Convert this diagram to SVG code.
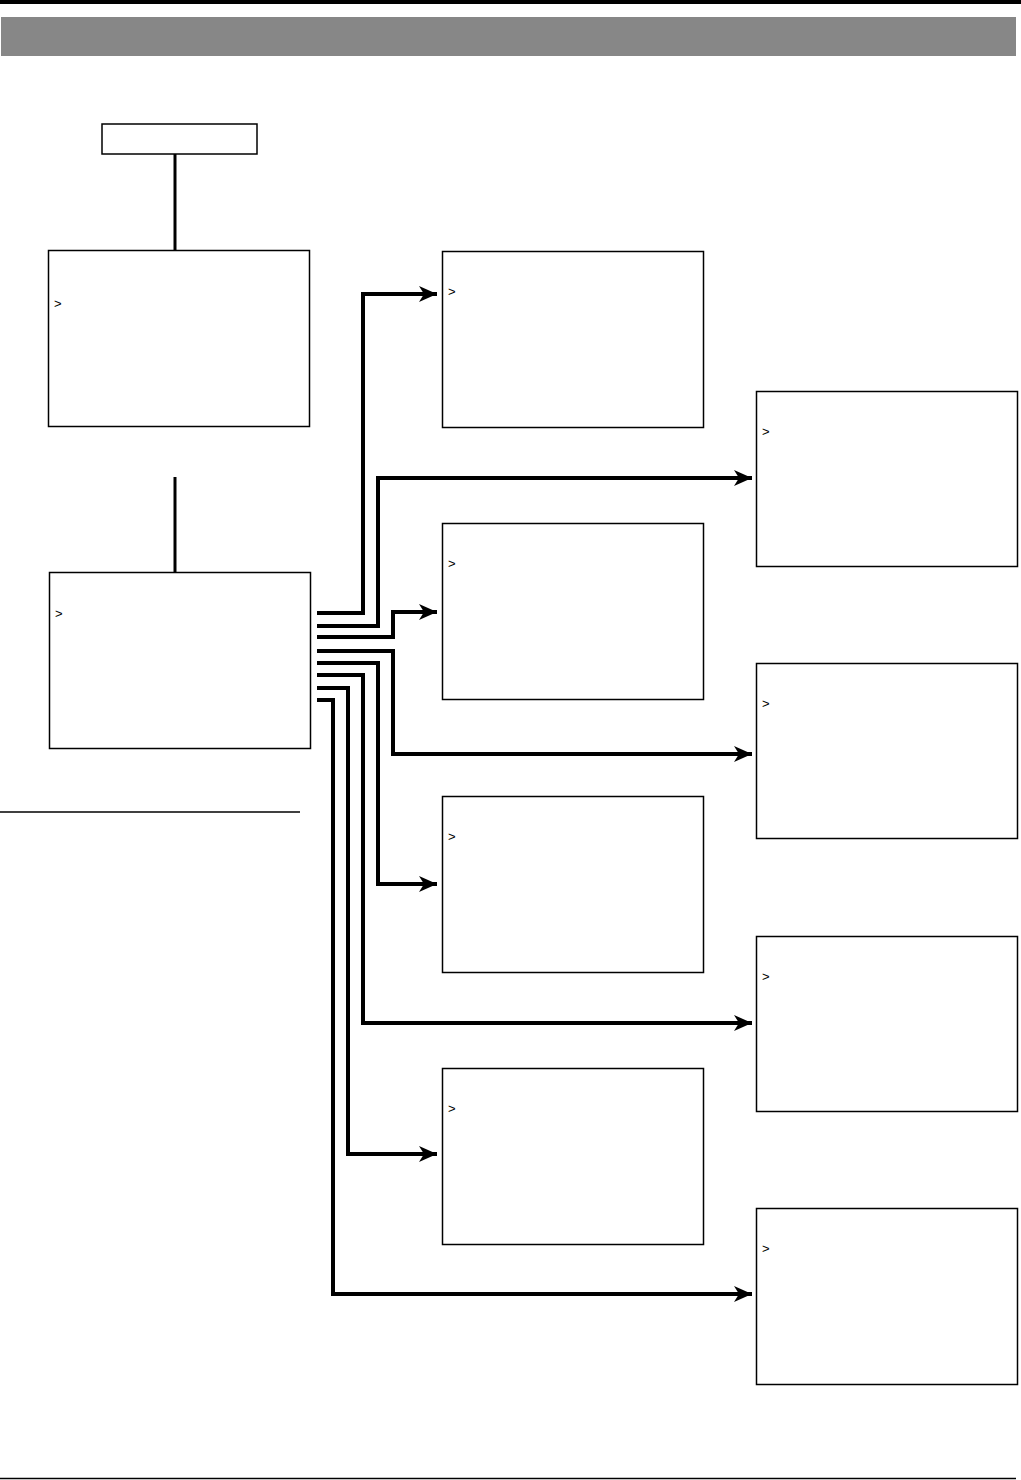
<svg xmlns="http://www.w3.org/2000/svg" width="1021" height="1480" viewBox="0 0 1021 1480">
<style>
.box{fill:#fff;stroke:#000;stroke-width:1.5}
.c{fill:none;stroke:#000;stroke-width:4;stroke-linejoin:miter}
.t{font-family:"Liberation Sans",Arial,sans-serif;font-size:13px;fill:#000}
</style>
<defs>
<marker id="ah" markerUnits="userSpaceOnUse" markerWidth="20" markerHeight="18" refX="18" refY="9" orient="auto" viewBox="0 0 20 18">
<path d="M0,1 L18,9 L0,17 L5,9 Z" fill="#000"/>
</marker>
</defs>
<rect x="0" y="0" width="1021" height="4" fill="#000"/>
<rect x="1" y="17" width="1015" height="39" fill="#878787"/>
<line x1="0" y1="1478.5" x2="1016" y2="1478.5" stroke="#000" stroke-width="1.5"/>
<line x1="0" y1="812" x2="300" y2="812" stroke="#000" stroke-width="1.5"/>
<g id="connectors">
<line x1="175" y1="154" x2="175" y2="250" stroke="#000" stroke-width="3"/>
<line x1="175" y1="477" x2="175" y2="572" stroke="#000" stroke-width="3"/>
<polyline class="c" points="317,613 363,613 363,294 437,294" marker-end="url(#ah)"/>
<polyline class="c" points="317,626 378,626 378,478 752,478" marker-end="url(#ah)"/>
<polyline class="c" points="317,637 393,637 393,612 437,612" marker-end="url(#ah)"/>
<polyline class="c" points="317,651 393,651 393,754 752,754" marker-end="url(#ah)"/>
<polyline class="c" points="317,663 378,663 378,884 437,884" marker-end="url(#ah)"/>
<polyline class="c" points="317,675 363,675 363,1023 752,1023" marker-end="url(#ah)"/>
<polyline class="c" points="317,688 348,688 348,1154 437,1154" marker-end="url(#ah)"/>
<polyline class="c" points="317,700 333,700 333,1294 752,1294" marker-end="url(#ah)"/>
</g>
<g id="top"><rect class="box" x="102" y="124" width="155" height="30"/></g>
<g id="left1"><rect class="box" x="48.5" y="250.5" width="261" height="176"/><text class="t" x="54" y="308">&gt;</text></g>
<g id="left2"><rect class="box" x="49.5" y="572.5" width="261" height="176"/><text class="t" x="55" y="618">&gt;</text></g>
<g id="m1"><rect class="box" x="442.5" y="251.5" width="261" height="176"/><text class="t" x="448" y="296">&gt;</text></g>
<g id="m2"><rect class="box" x="442.5" y="523.5" width="261" height="176"/><text class="t" x="448" y="568">&gt;</text></g>
<g id="m3"><rect class="box" x="442.5" y="796.5" width="261" height="176"/><text class="t" x="448" y="841">&gt;</text></g>
<g id="m4"><rect class="box" x="442.5" y="1068.5" width="261" height="176"/><text class="t" x="448" y="1113">&gt;</text></g>
<g id="r1"><rect class="box" x="756.5" y="391.5" width="261" height="175"/><text class="t" x="762" y="436">&gt;</text></g>
<g id="r2"><rect class="box" x="756.5" y="663.5" width="261" height="175"/><text class="t" x="762" y="708">&gt;</text></g>
<g id="r3"><rect class="box" x="756.5" y="936.5" width="261" height="175"/><text class="t" x="762" y="981">&gt;</text></g>
<g id="r4"><rect class="box" x="756.5" y="1208.5" width="261" height="176"/><text class="t" x="762" y="1253">&gt;</text></g>
</svg>
